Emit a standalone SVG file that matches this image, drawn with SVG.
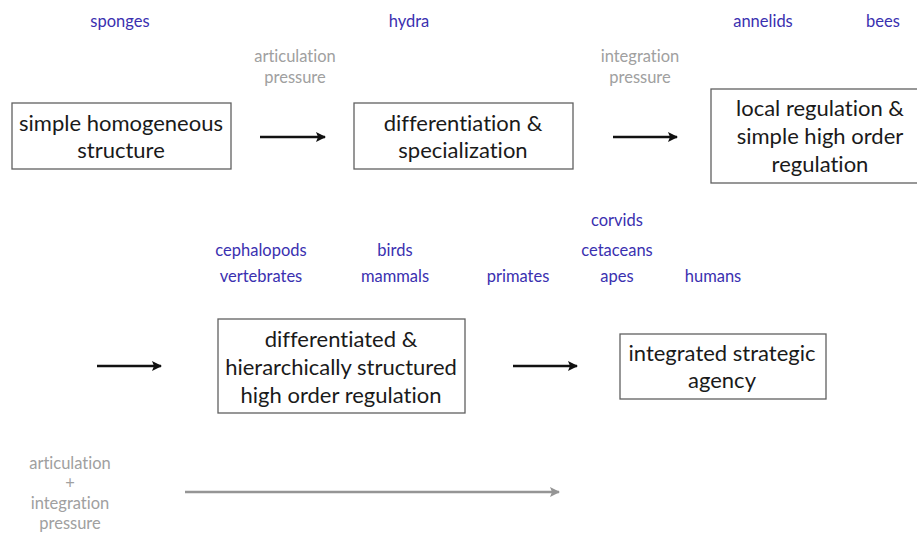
<svg xmlns="http://www.w3.org/2000/svg" width="917" height="534" viewBox="0 0 917 534">
<style>
text{font-variant-ligatures:none;font-family:Lato,"Open Sans",sans-serif;text-anchor:middle}
.box{fill:#fff;stroke:#606060;stroke-width:1.3}
.t{font-size:22px;fill:#1a1a1a}
.b{font-size:16.5px;fill:#3a30b0}
.g{font-size:16.5px;fill:#a0a0a0}
.c{stroke:#111;stroke-width:2.5;fill:none;marker-end:url(#ah)}
.cg{stroke:#959595;stroke-width:2.5;fill:none;marker-end:url(#ahg)}
</style>
<defs>
<marker id="ah" viewBox="0 0 10 10" refX="9" refY="5" markerWidth="4" markerHeight="4" orient="auto" markerUnits="strokeWidth"><path d="M0,0 L10,5 L0,10 L2,5 z" fill="#111"/></marker>
<marker id="ahg" viewBox="0 0 10 10" refX="9" refY="5" markerWidth="4" markerHeight="4" orient="auto" markerUnits="strokeWidth"><path d="M0,0 L10,5 L0,10 L2,5 z" fill="#959595"/></marker>
</defs>
<rect width="917" height="534" fill="#fff"/>

<g id="labels">
<text class="b" x="120" y="27">sponges</text>
<text class="b" x="409" y="27">hydra</text>
<text class="b" x="763" y="27">annelids</text>
<text class="b" x="883" y="27">bees</text>
<text class="g" x="295" y="62">articulation</text>
<text class="g" x="295" y="83">pressure</text>
<text class="g" x="640" y="62">integration</text>
<text class="g" x="640" y="83">pressure</text>
<text class="b" x="617" y="226">corvids</text>
<text class="b" x="261" y="256">cephalopods</text>
<text class="b" x="395" y="256">birds</text>
<text class="b" x="617" y="256">cetaceans</text>
<text class="b" x="261" y="282">vertebrates</text>
<text class="b" x="395" y="282">mammals</text>
<text class="b" x="518" y="282">primates</text>
<text class="b" x="617" y="282">apes</text>
<text class="b" x="713" y="282">humans</text>
<text class="g" x="70" y="469">articulation</text>
<text class="g" x="70" y="489">+</text>
<text class="g" x="70" y="509">integration</text>
<text class="g" x="70" y="529">pressure</text>
</g>

<g id="n1">
<rect class="box" x="12" y="103" width="219" height="66"/>
<text class="t" x="121" y="131">simple homogeneous</text>
<text class="t" x="121" y="158">structure</text>
</g>
<g id="n2">
<rect class="box" x="354" y="103" width="219" height="66"/>
<text class="t" x="463" y="131">differentiation &amp;</text>
<text class="t" x="463" y="158">specialization</text>
</g>
<g id="n3">
<rect class="box" x="711" y="89" width="210" height="94"/>
<text class="t" x="820" y="116">local regulation &amp;</text>
<text class="t" x="820" y="144">simple high order</text>
<text class="t" x="820" y="172">regulation</text>
</g>
<g id="n4">
<rect class="box" x="218" y="319" width="247" height="94"/>
<text class="t" x="341" y="347">differentiated &amp;</text>
<text class="t" x="341" y="375">hierarchically structured</text>
<text class="t" x="341" y="403">high order regulation</text>
</g>
<g id="n5">
<rect class="box" x="620" y="334" width="206" height="65"/>
<text class="t" x="722" y="361">integrated strategic</text>
<text class="t" x="722" y="388">agency</text>
</g>

<g id="connectors">
<line class="c" x1="260" y1="137" x2="325" y2="137"/>
<line class="c" x1="613" y1="137" x2="677" y2="137"/>
<line class="c" x1="97" y1="366" x2="161" y2="366"/>
<line class="c" x1="513" y1="366" x2="577" y2="366"/>
<line class="cg" x1="185" y1="492" x2="559" y2="492"/>
</g>
</svg>
